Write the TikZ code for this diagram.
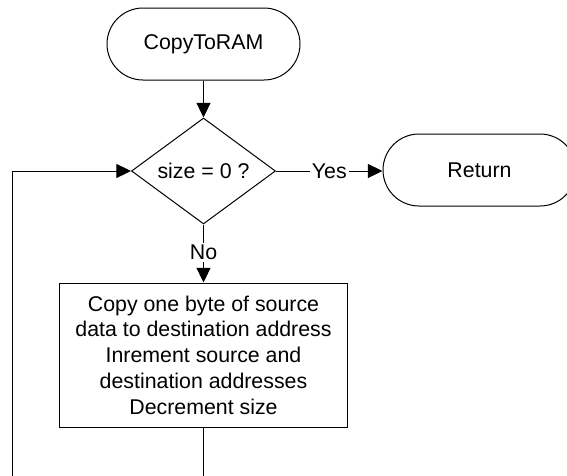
\documentclass[tikz,border=0pt]{standalone}
\usepackage{fontspec}
\setmainfont{Liberation Sans}
\usetikzlibrary{arrows.meta,shapes.geometric}
\tikzset{
  px/.style={x=0.75pt,y=-0.75pt},
  txt/.style={font=\fontsize{16}{19.3}\selectfont},
  term/.style={txt,draw,line width=0.75pt,rounded corners=27pt,minimum width=144.75pt,minimum height=54pt,inner sep=0pt},
  decide/.style={txt,draw,line width=0.75pt,diamond,minimum width=108pt,minimum height=79.5pt,aspect=1.36,inner sep=0pt},
  procbox/.style={txt,draw,line width=0.75pt,rectangle,minimum width=216pt,minimum height=108pt,inner sep=0pt,align=center},
  lbl/.style={txt,fill=white,inner sep=1.5pt},
  conn/.style={line width=0.75pt,-{Triangle[length=11pt,width=10.5pt]}},
  plain/.style={line width=0.75pt}
}
\begin{document}
\begin{tikzpicture}[px]
\useasboundingbox (0,0) rectangle (567,475);
\clip (0,0) rectangle (567,475);
\node[term] (start) at (203.5,44) {CopyToRAM};
\node[decide] (dec) at (203.5,171) {size = 0 ?};
\node[term] (ret) at (479.5,170) {Return};
\node[procbox] (proc) at (203.5,355) {Copy one byte of source\\data to destination address\\Inrement source and\\destination addresses\\Decrement size};
\coordinate (c1) at (203.5,495);
\coordinate (c2) at (12,495);
\coordinate (c3) at (12,171);
\draw[conn] (start) -- (dec);
\draw[conn] (dec.east) -- node[lbl,pos=0.5] {Yes} (ret.west |- dec.east);
\draw[conn] (dec.south) -- node[lbl,pos=0.48] {No} (proc.north);
\draw[plain] (proc.south) -- (c1) -- (c2) -- (c3);
\draw[conn] (c3) -- (dec.west);
\end{tikzpicture}
\end{document}
